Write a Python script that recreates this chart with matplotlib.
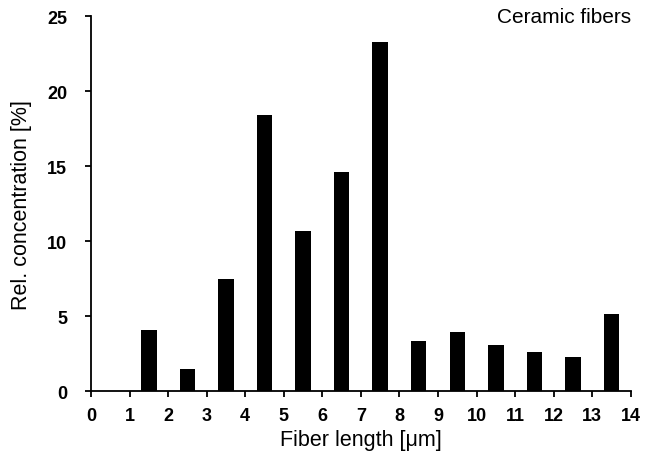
import matplotlib.pyplot as plt

# bar centres (um) and relative concentration (%)
lengths = [1.5, 2.5, 3.5, 4.5, 5.5, 6.5, 7.5, 8.5, 9.5, 10.5, 11.5, 12.5, 13.5]
concentration = [4.1, 1.5, 7.5, 18.4, 10.7, 14.6, 23.3, 3.35, 3.95, 3.1, 2.6, 2.3, 5.15]
x_ticks = list(range(0, 15))
y_ticks = [0, 5, 10, 15, 20, 25]

plt.rcParams["font.family"] = ["Liberation Sans", "DejaVu Sans"]

fig = plt.figure(figsize=(6.45, 4.6), dpi=100)
ax = fig.add_axes([0.141, 0.147, 0.837, 0.815])

ax.bar(lengths, concentration, width=0.4, color="black")

ax.set_xlim(0, 14)
ax.set_ylim(0, 25)
ax.set_xticks(x_ticks)
ax.set_yticks(y_ticks)
for s in ["top", "right"]:
    ax.spines[s].set_visible(False)
for s in ["left", "bottom"]:
    ax.spines[s].set_linewidth(1.3)
ax.tick_params(axis="both", direction="out", length=4, width=1.3, labelsize=13)
ax.tick_params(axis="x", pad=7)
ax.tick_params(axis="y", pad=13)
for lbl in ax.get_xticklabels() + ax.get_yticklabels():
    lbl.set_fontweight("bold")

ax.set_xlabel("Fiber length [\u03bcm]", fontsize=15.5, labelpad=4)
ax.set_ylabel("Rel. concentration [%]", fontsize=15.5, labelpad=11)
ax.text(1.0, 1.0, "Ceramic fibers", transform=ax.transAxes, ha="right",
        va="center", fontsize=15)

fig.savefig("out.png", dpi=100)
